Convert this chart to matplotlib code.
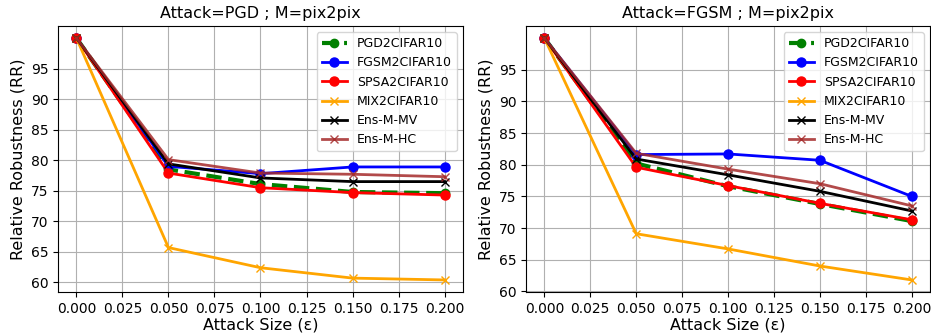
import matplotlib
matplotlib.use("Agg")
import matplotlib.pyplot as plt

# Attack sizes
eps = [0.0, 0.05, 0.1, 0.15, 0.2]

# Attack=PGD ; M=pix2pix
pgd_pgd2 = [100, 78.5, 76.1, 74.8, 74.6]
pgd_fgsm2 = [100, 79.0, 77.8, 78.9, 78.9]
pgd_spsa2 = [100, 77.9, 75.5, 74.7, 74.3]
pgd_mix2 = [100, 65.7, 62.4, 60.7, 60.4]
pgd_mv = [100, 79.4, 77.1, 76.5, 76.5]
pgd_hc = [100, 80.1, 77.9, 77.7, 77.3]

# Attack=FGSM ; M=pix2pix
fgsm_pgd2 = [100, 80.2, 76.6, 73.8, 71.1]
fgsm_fgsm2 = [100, 81.6, 81.7, 80.7, 75.0]
fgsm_spsa2 = [100, 79.6, 76.7, 73.9, 71.3]
fgsm_mix2 = [100, 69.1, 66.7, 64.0, 61.8]
fgsm_mv = [100, 80.9, 78.4, 75.8, 72.7]
fgsm_hc = [100, 81.8, 79.3, 77.0, 73.5]

labels = ["PGD2CIFAR10", "FGSM2CIFAR10", "SPSA2CIFAR10",
          "MIX2CIFAR10", "Ens-M-MV", "Ens-M-HC"]
titles = ["Attack=PGD ; M=pix2pix", "Attack=FGSM ; M=pix2pix"]
panels = [
    [pgd_pgd2, pgd_fgsm2, pgd_spsa2, pgd_mix2, pgd_mv, pgd_hc],
    [fgsm_pgd2, fgsm_fgsm2, fgsm_spsa2, fgsm_mix2, fgsm_mv, fgsm_hc],
]

styles = [
    dict(color="green", linestyle="--", marker="o", linewidth=3, markersize=6),
    dict(color="blue", marker="o", linewidth=2, markersize=6.5),
    dict(color="red", marker="o", linewidth=2, markersize=6.5),
    dict(color="orange", marker="x", linewidth=2, markersize=6),
    dict(color="black", marker="x", linewidth=2, markersize=6),
    dict(color="brown", marker="x", linewidth=2, markersize=6, alpha=0.85),
]

fig = plt.figure(figsize=(9.31, 3.33), dpi=100)
axes = [fig.add_axes([0.0623, 0.123, 0.435, 0.799]),
        fig.add_axes([0.565, 0.123, 0.434, 0.799])]

for ax, title, series in zip(axes, titles, panels):
    for vals, lab, st in zip(series, labels, styles):
        ax.plot(eps, vals, label=lab, **st)
    ax.set_yticks(range(60, 100, 5))
    ax.set_title(title, fontsize=11.5)
    ax.set_xlabel("Attack Size (\u03b5)", fontsize=11.5, labelpad=1)
    ax.set_ylabel("Relative Robustness (RR)", fontsize=11.5)
    ax.grid()
    ax.legend(loc="upper right", fontsize=9)

fig.savefig("out.png", dpi=100)
